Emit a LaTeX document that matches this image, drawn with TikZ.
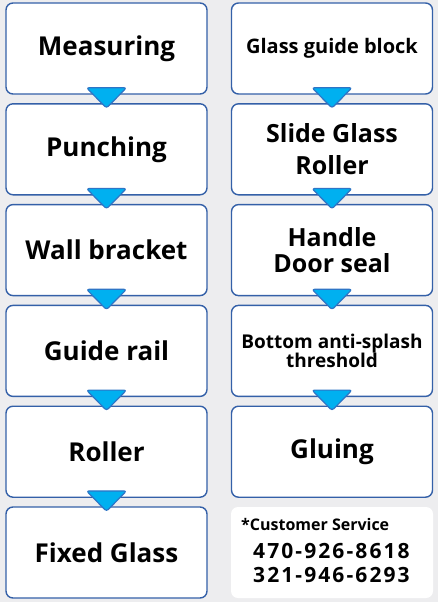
\documentclass[tikz,border=0pt]{standalone}
\usepackage{fontspec}
\setmainfont{Open Sans}
\newfontfamily\phonefont[LetterSpace=10]{Open Sans}
\definecolor{bgc}{HTML}{EDEDEF}
\definecolor{bordc}{HTML}{3460A8}
\definecolor{tric}{HTML}{00B0F0}
\definecolor{trib}{HTML}{2E75C6}
\begin{document}
\begin{tikzpicture}[x=1pt,y=-1pt,
  stepbox/.style={draw=bordc,line width=1.4pt,fill=white,rounded corners=7pt,
    minimum width=201pt,minimum height=91pt,align=center,inner sep=0pt,
    font=\bfseries\fontsize{26}{27}\selectfont},
  tri/.style={fill=tric,draw=trib,line width=1.2pt,rounded corners=2.5pt,line join=round},
  infobox/.style={fill=white,draw=none,rounded corners=7pt,minimum width=202pt,minimum height=91pt}]
\useasboundingbox[fill=bgc] (0,0) rectangle (438,602);
% left column
\node[stepbox] (l1) at (106.5,48.5) {Measuring};
\node[stepbox] (l2) at (106.5,149.3) {Punching};
\node[stepbox] (l3) at (106.5,250.1) {Wall bracket};
\node[stepbox] (l4) at (106.5,350.9) {Guide rail};
\node[stepbox] (l5) at (106.5,451.7) {Roller};
\node[stepbox] (l6) at (106.5,552.5) {Fixed Glass};
% right column
\node[stepbox,font=\bfseries\fontsize{20}{22}\selectfont] (r1) at (332,48.5) {Glass guide block};
\node[stepbox,font=\bfseries\fontsize{25}{32}\selectfont] (r2) at (332,149.3) {Slide Glass\\Roller};
\node[stepbox,font=\bfseries\fontsize{25}{26}\selectfont] (r3) at (332,250.1) {Handle\\Door seal};
\node[stepbox,font=\bfseries\fontsize{19}{19.5}\selectfont] (r4) at (332,350.9) {Bottom anti-splash\\threshold};
\node[stepbox] (r5) at (332,451.7) {Gluing};
\node[infobox] (r6) at (332,552.5) {};
\node[anchor=west,inner sep=0pt,font=\bfseries\fontsize{16}{17}\selectfont] (cs) at (241,524) {*Customer Service};
\node[anchor=west,inner sep=0pt,font=\phonefont\bfseries\fontsize{21}{22}\selectfont] (p1) at (253,551) {470-926-8618};
\node[anchor=west,inner sep=0pt,font=\phonefont\bfseries\fontsize{21}{22}\selectfont] (p2) at (253,575) {321-946-6293};
% triangles
\foreach \a/\b in {l1/l2,l2/l3,l3/l4,l4/l5,l5/l6,r1/r2,r2/r3,r3/r4,r4/r5}{
  \draw[tri] ([xshift=-20pt,yshift=7pt]\a.south) -- ([xshift=20pt,yshift=7pt]\a.south) -- ([yshift=-5pt]\b.north) -- cycle;
}
\end{tikzpicture}
\end{document}
